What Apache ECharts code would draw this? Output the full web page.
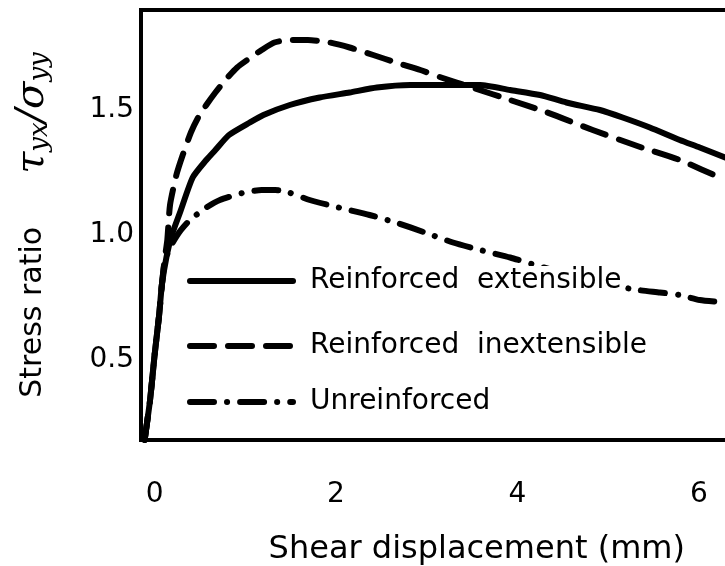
<!DOCTYPE html>
<html>
<head>
<meta charset="utf-8">
<script src="https://cdn.jsdelivr.net/npm/echarts@6/dist/echarts.min.js"></script>
<style>html,body{margin:0;padding:0;background:#fff}#c{width:725px;height:566px}</style>
</head>
<body>
<div id="c"></div>
<script>
// Shear displacement (mm) and stress ratio values
const extX = [-0.11,-0.05,0.00,0.05,0.08,0.13,0.19,0.28,0.42,0.57,0.67,0.82,1.05,1.20,1.49,1.82,2.15,2.45,2.82,3.29,3.59,3.92,4.25,4.54,4.91,5.16,5.46,5.79,6.01,6.29];
const extY = [0.18,0.34,0.52,0.68,0.80,0.91,1.00,1.09,1.23,1.30,1.34,1.40,1.45,1.48,1.52,1.55,1.57,1.59,1.60,1.60,1.60,1.58,1.56,1.53,1.50,1.47,1.43,1.38,1.35,1.31];
const inextX = [-0.11,-0.05,0.00,0.05,0.08,0.11,0.14,0.17,0.24,0.31,0.40,0.48,0.57,0.67,0.78,0.91,1.06,1.18,1.32,1.49,1.69,1.93,2.15,2.41,2.66,2.93,3.16,3.50,3.92,4.33,4.83,5.37,5.79,6.29];
const inextY = [0.18,0.34,0.52,0.68,0.80,0.90,0.98,1.12,1.24,1.32,1.41,1.47,1.52,1.57,1.62,1.67,1.71,1.74,1.77,1.78,1.78,1.77,1.75,1.72,1.69,1.66,1.63,1.59,1.54,1.49,1.42,1.35,1.30,1.22];
const unrX = [-0.11,-0.05,0.00,0.05,0.08,0.11,0.17,0.27,0.39,0.57,0.72,0.99,1.18,1.33,1.48,1.71,2.03,2.37,2.66,2.98,3.29,3.59,3.92,4.29,4.69,5.02,5.33,5.57,5.79,6.01,6.29];
const unrY = [0.18,0.34,0.52,0.68,0.80,0.89,0.95,1.01,1.06,1.11,1.14,1.17,1.18,1.18,1.17,1.14,1.11,1.08,1.05,1.01,0.97,0.94,0.91,0.87,0.83,0.80,0.78,0.77,0.76,0.74,0.73];
const seriesNames = ['Reinforced  extensible','Reinforced  inextensible','Unreinforced'];
const xTickLabels = [0, 2, 4, 6];
const yTickLabels = [0.5, 1.0, 1.5];

const pairs = (xs, ys) => xs.map((x, i) => [x, ys[i]]);
const FONT = 'DejaVu Sans';
const chart = echarts.init(document.getElementById('c'), null, {renderer: 'canvas'});

const lineSeries = (name, data, type) => ({
  name, type: 'line', data, symbol: 'none', smooth: 0.2, clip: true,
  itemStyle: {color: '#000'},
  lineStyle: {color: '#000', width: 6, type, cap: 'round', join: 'round'}
});
const legendAt = (name, top) => ({
  data: [name], left: 182, top, orient: 'horizontal', selectedMode: false,
  itemWidth: 103, itemHeight: 14, padding: 5,
  itemStyle: {opacity: 0},
  lineStyle: {width: 6, color: '#000', cap: 'round'},
  textStyle: {fontFamily: FONT, fontSize: 28, color: '#000', lineHeight: 30,
    backgroundColor: '#fff', padding: [0, 0, 0, 12]}
});

chart.setOption({
  animation: false,
  backgroundColor: '#fff',
  grid: {left: 141, top: 10, width: 589.55, height: 430, show: true, outerBoundsMode: 'none',
    borderColor: '#000', borderWidth: 4, backgroundColor: 'transparent'},
  xAxis: {
    type: 'value', min: -0.15, max: 6.35, interval: 0.05,
    axisLine: {show: false}, axisTick: {show: false}, splitLine: {show: false},
    axisLabel: {
      interval: 0, margin: 41, fontFamily: FONT, fontSize: 28, color: '#000',
      formatter: v => { const r = Math.round(v * 100) / 100; return xTickLabels.includes(r) ? String(r) : ''; }
    },
    name: 'Shear displacement (mm)', nameLocation: 'middle', nameGap: 94,
    nameTextStyle: {fontFamily: FONT, fontSize: 32, color: '#000', padding: [0, 0, 0, 82]}
  },
  yAxis: {
    type: 'value', min: 0.18, max: 1.9, interval: 0.02,
    axisLine: {show: false}, axisTick: {show: false}, splitLine: {show: false},
    axisLabel: {
      interval: 0, margin: 7, fontFamily: FONT, fontSize: 28, color: '#000',
      formatter: v => { const r = Math.round(v * 100) / 100; return yTickLabels.includes(r) ? r.toFixed(1) : ''; }
    },
    name: '{a|Stress ratio}{g|τ}{s|yx}{g|/σ}{s|yy}', nameLocation: 'middle', nameGap: 88, nameRotate: 90,
    nameTextStyle: {
      color: '#000',
      rich: {
        a: {fontFamily: FONT, fontSize: 30, color: '#000', padding: [0, 53, 0, 0]},
        g: {fontFamily: 'DejaVu Serif', fontStyle: 'italic', fontSize: 40, color: '#000'},
        s: {fontFamily: 'DejaVu Serif', fontStyle: 'italic', fontSize: 26, color: '#000', verticalAlign: 'bottom'}
      }
    }
  },
  legend: [
    legendAt(seriesNames[0], 261),
    legendAt(seriesNames[1], 326),
    legendAt(seriesNames[2], 382)
  ],
  series: [
    lineSeries(seriesNames[0], pairs(extX, extY), 'solid'),
    lineSeries(seriesNames[1], pairs(inextX, inextY), [24, 14]),
    lineSeries(seriesNames[2], pairs(unrX, unrY), [24, 13, 0.1, 13])
  ]
});
</script>
</body>
</html>
